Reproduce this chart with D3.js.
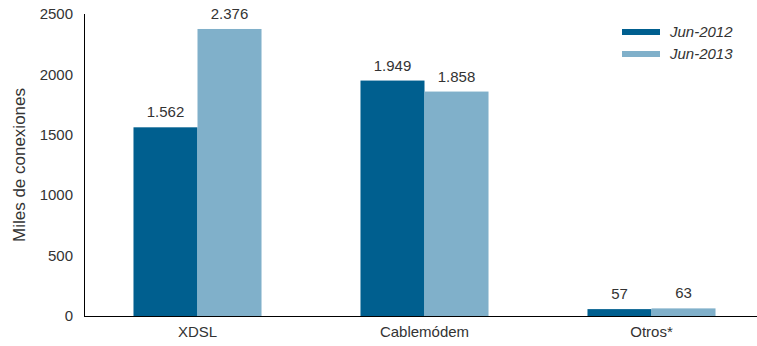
<!DOCTYPE html>
<html>
<head>
<meta charset="utf-8">
<script src="https://cdn.jsdelivr.net/npm/d3@7"></script>
<style>
  body { margin: 0; background: #fff; }
  text { font-family: "Liberation Sans", Arial, sans-serif; fill: #333; }
</style>
</head>
<body>
<svg id="chart"></svg>
<script>
var categories = ["XDSL", "Cablemódem", "Otros*"];
var series = ["Jun-2012", "Jun-2013"];
var jun2012 = [1562, 1949, 57];
var jun2013 = [2376, 1858, 63];
var valueLabels2012 = ["1.562", "1.949", "57"];
var valueLabels2013 = ["2.376", "1.858", "63"];
var yTicks = [0, 500, 1000, 1500, 2000, 2500];
var colors = ["#005f8f", "#80b0ca"];

var width = 757, height = 346;

var svg = d3.select("#chart")
    .attr("width", width)
    .attr("height", height);

var x = d3.scaleBand()
    .domain(categories)
    .range([84, 765])
    .paddingInner(0.436)
    .paddingOuter(0.218);

var xs = d3.scaleBand()
    .domain(series)
    .range([0, x.bandwidth()]);

var y = d3.scaleLinear()
    .domain([0, 2500])
    .range([316, 14]);

var data = categories.map(function (c, i) {
    return [
        {cat: c, s: series[0], v: jun2012[i], lab: valueLabels2012[i]},
        {cat: c, s: series[1], v: jun2013[i], lab: valueLabels2013[i]}
    ];
});

// y tick labels
svg.append("g")
    .selectAll("text")
    .data(yTicks)
    .enter()
    .append("text")
    .attr("x", 73)
    .attr("y", function (d) { return y(d); })
    .attr("dy", "0.35em")
    .attr("text-anchor", "end")
    .style("font-size", "15px")
    .text(function (d) { return d; });

// y label
svg.append("text")
    .attr("transform", "translate(25,165) rotate(-90)")
    .attr("text-anchor", "middle")
    .style("font-size", "17px")
    .text("Miles de conexiones");

// bars
var groups = svg.append("g")
    .selectAll("g")
    .data(data)
    .enter()
    .append("g")
    .attr("transform", function (d) { return "translate(" + x(d[0].cat) + ",0)"; });

groups.selectAll("rect")
    .data(function (d) { return d; })
    .enter()
    .append("rect")
    .attr("x", function (d) { return xs(d.s); })
    .attr("y", function (d) { return y(d.v); })
    .attr("width", xs.bandwidth())
    .attr("height", function (d) { return y(0) - y(d.v); })
    .attr("fill", function (d, i) { return colors[i]; });

groups.selectAll("text")
    .data(function (d) { return d; })
    .enter()
    .append("text")
    .attr("x", function (d) { return xs(d.s) + xs.bandwidth() / 2; })
    .attr("y", function (d) { return y(d.v) - 10; })
    .attr("text-anchor", "middle")
    .style("font-size", "15px")
    .text(function (d) { return d.lab; });

// axis lines
svg.append("line")
    .attr("x1", 84.5).attr("x2", 84.5)
    .attr("y1", 14).attr("y2", 316.5)
    .attr("stroke", "#000");
svg.append("line")
    .attr("x1", 84).attr("x2", 757)
    .attr("y1", 316.5).attr("y2", 316.5)
    .attr("stroke", "#000");

// x labels
svg.append("g")
    .selectAll("text")
    .data(categories)
    .enter()
    .append("text")
    .attr("x", function (d) { return x(d) + x.bandwidth() / 2; })
    .attr("y", 337)
    .attr("text-anchor", "middle")
    .style("font-size", "15px")
    .text(function (d) { return d; });

// legend
var legend = svg.append("g")
    .selectAll("g")
    .data(series)
    .enter()
    .append("g")
    .attr("transform", function (d, i) { return "translate(622," + (29 + i * 22) + ")"; });

legend.append("rect")
    .attr("width", 38)
    .attr("height", 6)
    .attr("fill", function (d, i) { return colors[i]; });

legend.append("text")
    .attr("x", 48)
    .attr("y", 3)
    .attr("dy", "0.35em")
    .style("font-size", "15px")
    .style("font-style", "italic")
    .text(function (d) { return d; });
</script>
</body>
</html>
